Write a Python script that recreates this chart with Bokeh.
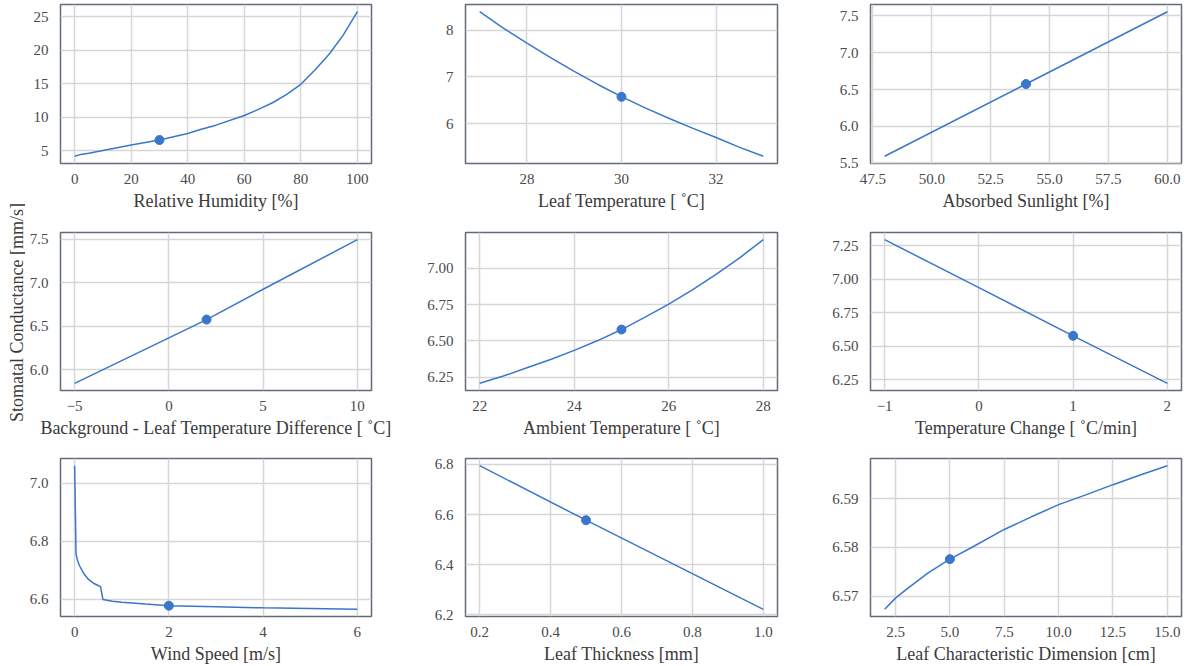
import math
from bokeh.plotting import figure
from bokeh.layouts import column, row
from bokeh.models import Range1d, FixedTicker, CustomJSTickFormatter, Label
from bokeh.embed import file_html
from bokeh.resources import INLINE

# ---------------- data ----------------
rh_x = [0, 2, 5, 10, 20, 30, 40, 44.5, 50, 60, 65, 70, 75, 80, 85, 90, 95, 100]
rh_y = [4.15, 4.4, 4.6, 5.0, 5.85, 6.58, 7.55, 8.15, 8.8, 10.25, 11.15, 12.15, 13.4,
        14.9, 17.05, 19.4, 22.25, 25.75]
rh_pt = (30, 6.58)

lt_x = [27, 27.5, 28, 28.5, 29, 29.5, 30, 30.5, 31, 31.5, 32, 32.5, 33]
lt_y = [8.39, 8.04, 7.72, 7.41, 7.12, 6.84, 6.58, 6.34, 6.12, 5.91, 5.71, 5.50, 5.31]
lt_pt = (30, 6.576)

sun_x = [48, 54, 60]
sun_y = [5.595, 6.576, 7.558]
sun_pt = (54, 6.576)

dt_x = [-5, 0, 2, 5, 10]
dt_y = [5.843, 6.365, 6.576, 6.925, 7.495]
dt_pt = (2, 6.576)

amb_x = [22, 22.5, 23, 23.5, 24, 24.5, 25, 25.5, 26, 26.5, 27, 27.5, 28]
amb_y = [6.207, 6.257, 6.314, 6.371, 6.434, 6.502, 6.578, 6.664, 6.754, 6.852, 6.959, 7.073, 7.198]
amb_pt = (25, 6.578)

rate_x = [-1, 0, 1, 2]
rate_y = [7.295, 6.937, 6.577, 6.222]
rate_pt = (1, 6.577)

wind_x = [0, 0.03, 0.06, 0.1, 0.2, 0.3, 0.4, 0.5, 0.55, 0.6, 0.8, 1.0, 1.5, 2, 3, 4, 5, 6]
wind_y = [7.061, 6.757, 6.735, 6.717, 6.688, 6.668, 6.656, 6.648, 6.644, 6.600, 6.594, 6.590,
          6.584, 6.5785, 6.575, 6.571, 6.569, 6.566]
wind_pt = (2, 6.5785)

thk_x = [0.2, 0.5, 1.0]
thk_y = [6.795, 6.5775, 6.222]
thk_pt = (0.5, 6.5775)

dim_x = [2, 2.5, 3, 4, 5, 6, 7.5, 8.75, 10, 11.25, 12.5, 13.75, 15]
dim_y = [6.5673, 6.5696, 6.5714, 6.5748, 6.5776, 6.5800, 6.5837, 6.5863, 6.5888, 6.5908,
         6.5929, 6.5949, 6.5968]
dim_pt = (5, 6.5776)

labels = [
    "Relative Humidity [%]", "Leaf Temperature [ ˚C]", "Absorbed Sunlight [%]",
    "Background - Leaf Temperature Difference [ ˚C]", "Ambient Temperature [ ˚C]",
    "Temperature Change [ ˚C/min]",
    "Wind Speed [m/s]", "Leaf Thickness [mm]", "Leaf Characteristic Dimension [cm]",
]
y_label = "Stomatal Conductance [mm/s]"

x_ticks = [
    [0, 20, 40, 60, 80, 100], [28, 30, 32], [47.5, 50.0, 52.5, 55.0, 57.5, 60.0],
    [-5, 0, 5, 10], [22, 24, 26, 28], [-1, 0, 1, 2],
    [0, 2, 4, 6], [0.2, 0.4, 0.6, 0.8, 1.0], [2.5, 5.0, 7.5, 10.0, 12.5, 15.0],
]
x_dec = [0, 0, 1, 0, 0, 0, 0, 1, 1]
y_ticks = [
    [5, 10, 15, 20, 25], [6, 7, 8], [5.5, 6.0, 6.5, 7.0, 7.5],
    [6.0, 6.5, 7.0, 7.5], [6.25, 6.50, 6.75, 7.00], [6.25, 6.50, 6.75, 7.00, 7.25],
    [6.6, 6.8, 7.0], [6.2, 6.4, 6.6, 6.8], [6.57, 6.58, 6.59],
]
y_dec = [0, 0, 1, 1, 2, 2, 1, 1, 2]

series = [
    (rh_x, rh_y, rh_pt), (lt_x, lt_y, lt_pt), (sun_x, sun_y, sun_pt),
    (dt_x, dt_y, dt_pt), (amb_x, amb_y, amb_pt), (rate_x, rate_y, rate_pt),
    (wind_x, wind_y, wind_pt), (thk_x, thk_y, thk_pt), (dim_x, dim_y, dim_pt),
]

# ---------------- style / layout ----------------
FONT = "Liberation Serif"
BLUE = "#3a77cc"
SPINE = "#626b79"
GRID = "#d6d6d6"

LAB_W = 25
col_w = [375, 400, 388]
col_l = [35, 65, 70]
col_r = [29, 23, 7]
row_h = [220, 220, 226]
row_t = [4, 12, 18]
row_b = [57, 50, 49]


def pad_range(vals):
    lo, hi = min(vals), max(vals)
    d = (hi - lo) * 0.05
    return Range1d(lo - d, hi + d)


def fmt(dec):
    return CustomJSTickFormatter(args=dict(d=dec),
                                 code="return tick.toFixed(d).replace('-', '\u2212');")


figs = []
for i, (xs, ys, pt) in enumerate(series):
    r, c = divmod(i, 3)
    p = figure(width=col_w[c], height=row_h[r], output_backend="svg", toolbar_location=None,
               x_range=pad_range(xs), y_range=pad_range(ys),
               min_border_left=col_l[c], min_border_right=col_r[c],
               min_border_top=row_t[r], min_border_bottom=row_b[r])
    p.line(xs, ys, line_color=BLUE, line_width=1.5)
    p.scatter([pt[0]], [pt[1]], size=9, fill_color=BLUE, line_color=BLUE)

    p.xaxis.ticker = FixedTicker(ticks=x_ticks[i])
    p.yaxis.ticker = FixedTicker(ticks=y_ticks[i])
    p.xaxis.formatter = fmt(x_dec[i])
    p.yaxis.formatter = fmt(y_dec[i])
    p.xaxis.axis_label = labels[i]
    for ax in (p.xaxis, p.yaxis):
        ax.axis_line_color = None
        ax.major_tick_line_color = None
        ax.minor_tick_line_color = None
        ax.major_label_text_font = FONT
        ax.major_label_text_font_size = "15px"
        ax.major_label_text_color = "#4a4a4a"
        ax.axis_label_text_font = FONT
        ax.axis_label_text_font_size = "18px"
        ax.axis_label_text_font_style = "normal"
        ax.axis_label_text_color = "#3a3a3a"
        ax.axis_label_standoff = 4
    p.xaxis.major_label_standoff = 4
    p.yaxis.major_label_standoff = 6
    p.grid.grid_line_color = GRID
    p.grid.grid_line_width = 1.5
    p.outline_line_color = SPINE
    p.outline_line_width = 1.5
    p.background_fill_color = "white"
    p.border_fill_color = "white"
    figs.append(p)

# narrow strip holding the shared y-axis label
lab = figure(width=LAB_W, height=sum(row_h), output_backend="svg", toolbar_location=None,
             x_range=Range1d(0, LAB_W), y_range=Range1d(0, sum(row_h)),
             x_axis_type=None, y_axis_type=None,
             min_border_left=0, min_border_right=0, min_border_top=0, min_border_bottom=0)
lab.outline_line_color = None
lab.grid.visible = False
lab.add_layout(Label(x=16, y=sum(row_h) - 312, text=y_label, angle=math.pi / 2,
                     text_font=FONT, text_font_size="18px", text_color="#3a3a3a",
                     text_align="center", text_baseline="middle"))

grid = column(row(*figs[0:3]), row(*figs[3:6]), row(*figs[6:9]))
layout = row(lab, grid)

open("out.html", "w").write(file_html(layout, INLINE))
